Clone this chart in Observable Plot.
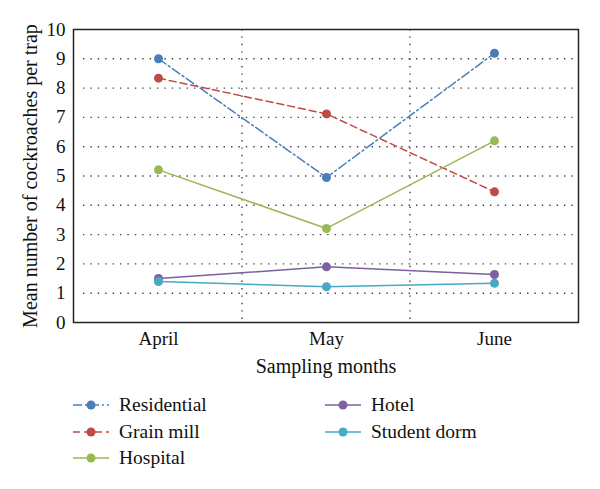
<!DOCTYPE html>
<html><head><meta charset="utf-8">
<script src="https://cdn.jsdelivr.net/npm/d3@7"></script>
<script src="https://cdn.jsdelivr.net/npm/@observablehq/plot@0.6"></script>
<style>
body{margin:0;background:#fff;font-family:"Liberation Serif",serif;}
#chart{width:600px;height:489px;position:relative;overflow:hidden}
.legend{display:grid;grid-template-columns:252px 200px;grid-template-rows:repeat(3,26.5px);grid-auto-flow:column;margin-left:73px;margin-top:7px;font-size:19.5px;color:#111}
.item{display:flex;align-items:center}
.item svg{margin-right:10px}
</style></head><body><div id="chart"></div>
<script>
const months = ["April", "May", "June"];
const series = ["Residential", "Grain mill", "Hospital", "Hotel", "Student dorm"];
const residential = [9.0, 4.95, 9.19];
const grainMill = [8.34, 7.12, 4.46];
const hospital = [5.21, 3.21, 6.2];
const hotel = [1.5, 1.9, 1.64];
const studentDorm = [1.4, 1.22, 1.34];
const yTicks = [0, 1, 2, 3, 4, 5, 6, 7, 8, 9, 10];
const gridTicks = [1, 2, 3, 4, 5, 6, 7, 8, 9];
const xTitle = "Sampling months";
const yTitle = "Mean number of cockroaches per trap";
const colors = ["#4a7ebb", "#be4b48", "#98b954", "#7d60a0", "#46aac5"];
const dashes = ["9,3,2,3", "7,4", null, null, null];

const values = [residential, grainMill, hospital, hotel, studentDorm];
const rows = series.flatMap((s, i) => months.map((m, j) => ({series: s, month: m, value: values[i][j]})));

const boundaries = (index, scales, vals, dims) => {
  const x = scales.x;
  const g = d3.create("svg:g");
  months.slice(1).forEach(m => {
    const px = x(m);
    g.append("line").attr("x1", px).attr("x2", px)
      .attr("y1", dims.marginTop).attr("y2", dims.height - dims.marginBottom)
      .attr("stroke", "#444").attr("stroke-width", 1.4).attr("stroke-dasharray", "1.4,6");
  });
  return g.node();
};

const marks = [
  Plot.ruleY(gridTicks, {stroke: "#444", strokeWidth: 1.4, strokeDasharray: "1.4,6", insetLeft: 10, insetRight: 4}),
  boundaries
];
series.forEach((s, i) => {
  marks.push(Plot.line(rows.filter(d => d.series === s), {x: "month", y: "value", stroke: colors[i], strokeWidth: 1.5, strokeDasharray: dashes[i] || undefined}));
});
series.forEach((s, i) => {
  marks.push(Plot.dot(rows.filter(d => d.series === s), {x: "month", y: "value", fill: colors[i], r: 4.5}));
});
marks.push(Plot.frame({stroke: "#222", strokeWidth: 1.5}));
marks.push(Plot.axisY({ticks: yTicks, tickSize: 0, tickPadding: 8, fontSize: 19, label: null, fill: "#111"}));
marks.push(Plot.axisX({tickSize: 0, tickPadding: 9, fontSize: 19, label: null, fill: "#111"}));
marks.push(Plot.text([yTitle], {text: d => d, frameAnchor: "left", textAnchor: "middle", lineAnchor: "middle", rotate: -90, dx: -43, fontSize: 20, fill: "#111"}));
marks.push(Plot.text([xTitle], {text: d => d, frameAnchor: "bottom", textAnchor: "middle", lineAnchor: "middle", dy: 44, fontSize: 20, fill: "#111"}));

const plot = Plot.plot({
  width: 600,
  height: 385,
  marginLeft: 73,
  marginRight: 22,
  marginTop: 29,
  marginBottom: 63,
  style: {fontFamily: "Liberation Serif, serif", background: "#fff"},
  x: {type: "band", domain: months, padding: 0},
  y: {domain: [0, 10]},
  marks
});
document.getElementById("chart").appendChild(plot);

const legend = d3.select("#chart").append("div").attr("class", "legend");
series.forEach((s, i) => {
  const it = legend.append("div").attr("class", "item");
  const sv = it.append("svg").attr("width", 36).attr("height", 12);
  sv.append("line").attr("x1", 0).attr("x2", 36).attr("y1", 6).attr("y2", 6)
    .attr("stroke", colors[i]).attr("stroke-width", 1.5).attr("stroke-dasharray", dashes[i]);
  sv.append("circle").attr("cx", 18).attr("cy", 6).attr("r", 4.5).attr("fill", colors[i]);
  it.append("span").text(s);
});
</script></body></html>
